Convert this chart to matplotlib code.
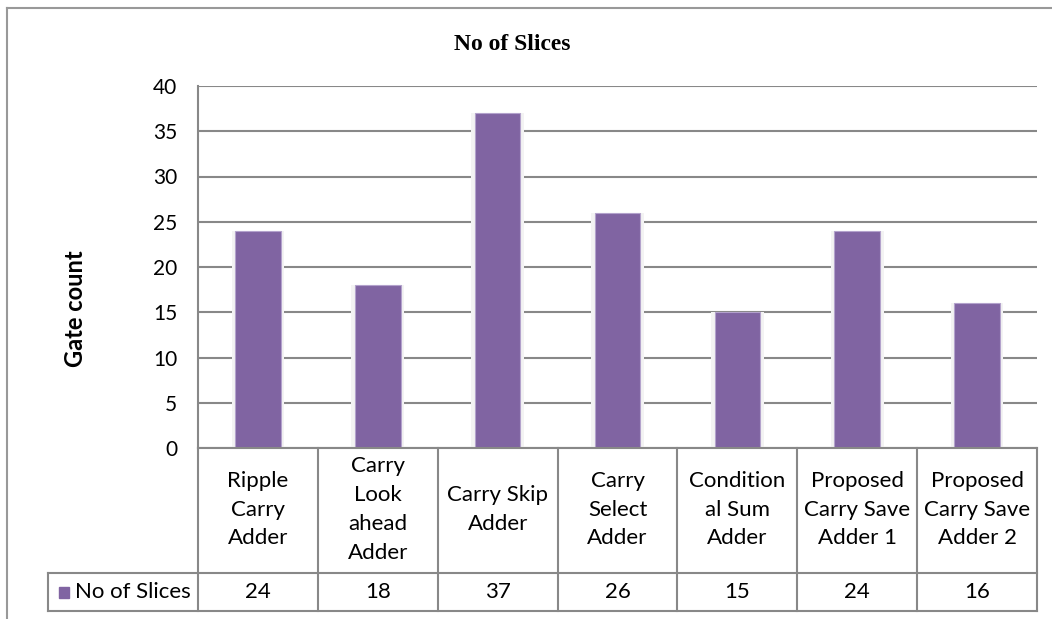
import matplotlib.pyplot as plt
from matplotlib.lines import Line2D
from matplotlib.patches import Rectangle

# adder designs and slice counts
adders = ['Ripple\nCarry\nAdder', 'Carry\nLook\nahead\nAdder', 'Carry Skip\nAdder',
          'Carry\nSelect\nAdder', 'Condition\nal Sum\nAdder', 'Proposed\nCarry Save\nAdder 1',
          'Proposed\nCarry Save\nAdder 2']
slices = [24, 18, 37, 26, 15, 24, 16]
series_name = 'No of Slices'
yticks = [0, 5, 10, 15, 20, 25, 30, 35, 40]

W, H = 1052, 619
bar_col = '#8064A2'
grid_col = '#888888'
font = 'Lato'

fig = plt.figure(figsize=(W / 100, H / 100), dpi=100)

def fx(px):
    return px / W

def fy(py):
    return 1 - py / H

# outer chart frame (clipped at right and bottom)
fig.add_artist(Line2D([fx(7), fx(7)], [fy(8), fy(619)], color='#999999', lw=1.5))
fig.add_artist(Line2D([fx(7), fx(1052)], [fy(8), fy(8)], color='#999999', lw=1.5))

left, right, top, base = 198, 1037, 86, 448
ax = fig.add_axes([fx(left), fy(base), fx(right - left), fy(top) - fy(base)])
n = len(slices)
x = list(range(n))

# soft shadow behind each bar
ax.bar(x, slices, width=0.44, color='#f3f3f3', zorder=2)
ax.bar(x, slices, width=0.38, color=bar_col, edgecolor='#b3a2cc', linewidth=0.8, zorder=3)

ax.set_xlim(-0.5, n - 0.5)
ax.set_ylim(0, 40)
ax.set_yticks(yticks)
ax.set_yticklabels([str(t) for t in yticks], fontsize=15, family=font)
ax.tick_params(axis='y', length=0, pad=15)
ax.set_xticks([])
ax.yaxis.grid(True, color=grid_col, lw=1.5, zorder=1)
ax.set_axisbelow(True)
for s in ['top', 'right', 'bottom']:
    ax.spines[s].set_visible(False)
ax.spines['left'].set_color(grid_col)
ax.spines['left'].set_linewidth(1.5)

fig.text(fx(512), fy(45), 'No of Slices', ha='center', va='center',
         fontsize=17, fontweight='bold', family='Liberation Serif')
fig.text(fx(76), fy(309), 'Gate count', ha='center', va='center', rotation=90,
         fontsize=17, fontweight='bold', family=font)

# data table below the plot
tb_top, tb_mid, tb_bot, leg_left = 448, 573, 611, 48
col_w = (right - left) / n
tax = fig.add_axes([fx(leg_left), fy(tb_bot), fx(right - leg_left), fy(tb_top) - fy(tb_bot)])
tax.set_xlim(leg_left, right)
tax.set_ylim(tb_bot, tb_top)
tax.axis('off')
lk = dict(color=grid_col, lw=1.5, clip_on=False)
tax.plot([left, right], [tb_top, tb_top], **lk)
tax.plot([leg_left, right], [tb_mid, tb_mid], **lk)
tax.plot([leg_left, right], [tb_bot, tb_bot], **lk)
tax.plot([leg_left, leg_left], [tb_mid, tb_bot], **lk)
for i in range(n + 1):
    cx = left + i * col_w
    tax.plot([cx, cx], [tb_top, tb_bot], **lk)
for i in range(n):
    cx = left + (i + 0.5) * col_w
    tax.text(cx, (tb_top + tb_mid) / 2 - 1, adders[i], ha='center', va='center',
             fontsize=16, family=font, linespacing=1.55)
    tax.text(cx, (tb_mid + tb_bot) / 2, str(slices[i]), ha='center', va='center',
             fontsize=16, family=font)
tax.add_patch(Rectangle((59, 587), 10, 11, color=bar_col, clip_on=False))
tax.text(75, (tb_mid + tb_bot) / 2, series_name, ha='left', va='center',
         fontsize=16, family=font)

fig.savefig('out.png', dpi=100)
